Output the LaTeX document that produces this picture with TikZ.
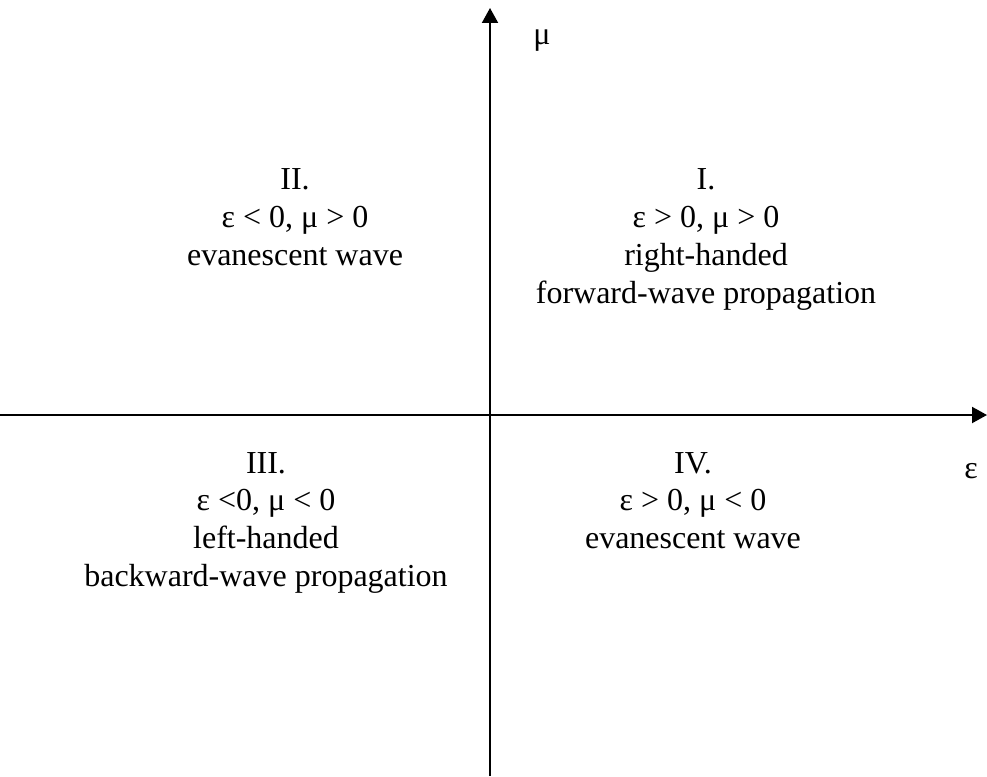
\documentclass[tikz,border=0pt]{standalone}
\usepackage{fontspec}
\setmainfont{Liberation Serif}
\usetikzlibrary{arrows.meta}
\begin{document}
\begin{tikzpicture}[x=1pt,y=-1pt,
  axis/.style={line width=2pt,-{Triangle[length=15pt,width=16pt]}},
  quad/.style={align=center,anchor=north,inner sep=0pt,
    font={\fontsize{32pt}{37.7pt}\selectfont}},
  axlabel/.style={anchor=base,inner sep=0pt,font={\fontsize{32pt}{37.7pt}\selectfont}}]
\useasboundingbox (0,0) rectangle (987,776);
\coordinate (xs) at (0,415);
\coordinate (xe) at (987,415);
\coordinate (ys) at (490,776);
\coordinate (ye) at (490,8);
\draw[axis] (xs) -- (xe);
\draw[axis] (ys) -- (ye);
\node[axlabel] (mu) at (542,45) {μ};
\node[axlabel] (eps) at (971,478) {ε};
\node[quad] (q1) at (706,168.8) {I.\\ ε > 0, μ > 0\\ right-handed\\ forward-wave propagation};
\node[quad] (q2) at (295,168.8) {II.\\ ε < 0, μ > 0\\ evanescent wave};
\node[quad] (q3) at (266,452) {III.\\ ε <0, μ < 0\\ left-handed\\ backward-wave propagation};
\node[quad] (q4) at (693,452) {IV.\\ ε > 0, μ < 0\\ evanescent wave};
\end{tikzpicture}
\end{document}
